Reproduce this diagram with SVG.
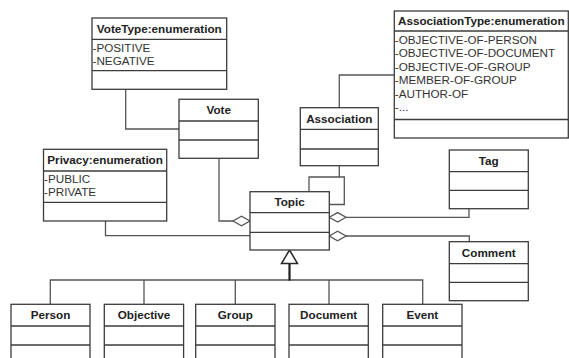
<svg xmlns="http://www.w3.org/2000/svg" width="569" height="358" viewBox="0 0 569 358">
  <style>
    .box { fill: #ffffff; stroke: #3c3c3c; stroke-width: 1.3; }
    .sep { stroke: #3c3c3c; stroke-width: 1.3; fill: none; }
    .title { font-family: "Liberation Sans", Arial, sans-serif; font-size: 11.7px; font-weight: bold; fill: #222222; text-anchor: middle; }
    .attr { font-family: "Liberation Sans", Arial, sans-serif; font-size: 11.7px; fill: #333333; }
    .wire { fill: none; stroke: #555555; stroke-width: 1.3; }
    .dia { fill: #ffffff; stroke: #555555; stroke-width: 1.3; }
    .gen { fill: #ffffff; stroke: #2a2a2a; stroke-width: 1.5; }
    .stem { fill: none; stroke: #1e1e1e; stroke-width: 2.2; }
  </style>
  <rect width="569" height="358" fill="#ffffff"/>

  <!-- connectors -->
  <g id="connectors">
    <polyline class="wire" points="125.7,89.3 125.7,129 179,129"/>
    <polyline class="wire" points="339.3,107.7 339.3,75 394.3,75"/>
    <polyline class="wire" points="339.3,165.7 339.3,177"/>
    <polyline class="wire" points="309,191.7 309,177 344.3,177 344.3,204.5 329.3,204.5"/>
    <polyline class="wire" points="219,158.3 219,221 233,221"/>
    <polygon class="dia" points="250,221 241.5,216.3 233,221 241.5,225.7"/>
    <polyline class="wire" points="105.5,221 105.5,235.7 250,235.7"/>
    <polyline class="wire" points="469,208.7 469,217.3 346,217.3"/>
    <polygon class="dia" points="329.3,217.3 337.6,212.6 346,217.3 337.6,222"/>
    <polyline class="wire" points="469.3,241.7 469.3,236 346,236"/>
    <polygon class="dia" points="329.3,236 337.6,231.3 346,236 337.6,240.7"/>
    <!-- generalization -->
    <polyline class="wire" points="50.3,304.3 50.3,280 422.7,280 422.7,304.3"/>
    <line class="wire" x1="144" y1="280" x2="144" y2="304.3"/>
    <line class="wire" x1="235.3" y1="280" x2="235.3" y2="304.3"/>
    <line class="wire" x1="329" y1="280" x2="329" y2="304.3"/>
    <line class="stem" x1="289.5" y1="280.6" x2="289.5" y2="263.5"/>
    <polygon class="gen" points="289.5,250 297.5,263.5 281.5,263.5"/>
  </g>

  <g id="VoteType">
    <rect class="box" x="92" y="18" width="134.7" height="71.3"/>
    <line class="sep" x1="92" y1="39.3" x2="226.7" y2="39.3"/>
    <line class="sep" x1="92" y1="70.7" x2="226.7" y2="70.7"/>
    <text class="title" x="159.3" y="32.5">VoteType:enumeration</text>
    <text class="attr" x="92.5" y="51.5">-POSITIVE</text>
    <text class="attr" x="92.5" y="65">-NEGATIVE</text>
  </g>

  <g id="AssociationType">
    <rect class="box" x="394.3" y="11" width="174" height="127"/>
    <line class="sep" x1="394.3" y1="31" x2="568.3" y2="31"/>
    <line class="sep" x1="394.3" y1="119.5" x2="568.3" y2="119.5"/>
    <text class="title" x="481.3" y="25">AssociationType:enumeration</text>
    <text class="attr" x="394.8" y="43.5">-OBJECTIVE-OF-PERSON</text>
    <text class="attr" x="394.8" y="57">-OBJECTIVE-OF-DOCUMENT</text>
    <text class="attr" x="394.8" y="70.5">-OBJECTIVE-OF-GROUP</text>
    <text class="attr" x="394.8" y="84">-MEMBER-OF-GROUP</text>
    <text class="attr" x="394.8" y="97.5">-AUTHOR-OF</text>
    <text class="attr" x="394.8" y="111">-...</text>
  </g>

  <g id="Vote">
    <rect class="box" x="179" y="99.3" width="79.3" height="59"/>
    <line class="sep" x1="179" y1="121" x2="258.3" y2="121"/>
    <line class="sep" x1="179" y1="140" x2="258.3" y2="140"/>
    <text class="title" x="218.7" y="114">Vote</text>
  </g>

  <g id="Association">
    <rect class="box" x="300.3" y="107.7" width="78" height="58"/>
    <line class="sep" x1="300.3" y1="129.3" x2="378.3" y2="129.3"/>
    <line class="sep" x1="300.3" y1="149" x2="378.3" y2="149"/>
    <text class="title" x="339.3" y="122.5">Association</text>
  </g>

  <g id="Privacy">
    <rect class="box" x="43.5" y="149.3" width="123.2" height="71.7"/>
    <line class="sep" x1="43.5" y1="171" x2="166.7" y2="171"/>
    <line class="sep" x1="43.5" y1="202.3" x2="166.7" y2="202.3"/>
    <text class="title" x="105.1" y="164">Privacy:enumeration</text>
    <text class="attr" x="44" y="182.5">-PUBLIC</text>
    <text class="attr" x="44" y="196">-PRIVATE</text>
  </g>

  <g id="Tag">
    <rect class="box" x="449.3" y="150" width="79" height="58.7"/>
    <line class="sep" x1="449.3" y1="171.7" x2="528.3" y2="171.7"/>
    <line class="sep" x1="449.3" y1="190.3" x2="528.3" y2="190.3"/>
    <text class="title" x="488.8" y="164.5">Tag</text>
  </g>

  <g id="Topic">
    <rect class="box" x="250" y="191.7" width="79.3" height="58.3"/>
    <line class="sep" x1="250" y1="212.7" x2="329.3" y2="212.7"/>
    <line class="sep" x1="250" y1="232.3" x2="329.3" y2="232.3"/>
    <text class="title" x="289.6" y="206">Topic</text>
  </g>

  <g id="Comment">
    <rect class="box" x="449.3" y="241.7" width="79" height="59"/>
    <line class="sep" x1="449.3" y1="263.7" x2="528.3" y2="263.7"/>
    <line class="sep" x1="449.3" y1="282.3" x2="528.3" y2="282.3"/>
    <text class="title" x="488.8" y="256.5">Comment</text>
  </g>

  <g id="Person">
    <rect class="box" x="11" y="304.3" width="79" height="70"/>
    <line class="sep" x1="11" y1="326" x2="90" y2="326"/>
    <line class="sep" x1="11" y1="345" x2="90" y2="345"/>
    <text class="title" x="50.5" y="318.8">Person</text>
  </g>

  <g id="Objective">
    <rect class="box" x="104.3" y="304.3" width="79.3" height="70"/>
    <line class="sep" x1="104.3" y1="326" x2="183.6" y2="326"/>
    <line class="sep" x1="104.3" y1="345" x2="183.6" y2="345"/>
    <text class="title" x="144" y="318.8">Objective</text>
  </g>

  <g id="Group">
    <rect class="box" x="195.7" y="304.3" width="79.3" height="70"/>
    <line class="sep" x1="195.7" y1="326" x2="275" y2="326"/>
    <line class="sep" x1="195.7" y1="345" x2="275" y2="345"/>
    <text class="title" x="235.3" y="318.8">Group</text>
  </g>

  <g id="Document">
    <rect class="box" x="289" y="304.3" width="79.3" height="70"/>
    <line class="sep" x1="289" y1="326" x2="368.3" y2="326"/>
    <line class="sep" x1="289" y1="345" x2="368.3" y2="345"/>
    <text class="title" x="328.7" y="318.8">Document</text>
  </g>

  <g id="Event">
    <rect class="box" x="382.7" y="304.3" width="79.3" height="70"/>
    <line class="sep" x1="382.7" y1="326" x2="462" y2="326"/>
    <line class="sep" x1="382.7" y1="345" x2="462" y2="345"/>
    <text class="title" x="422.3" y="318.8">Event</text>
  </g>
</svg>
